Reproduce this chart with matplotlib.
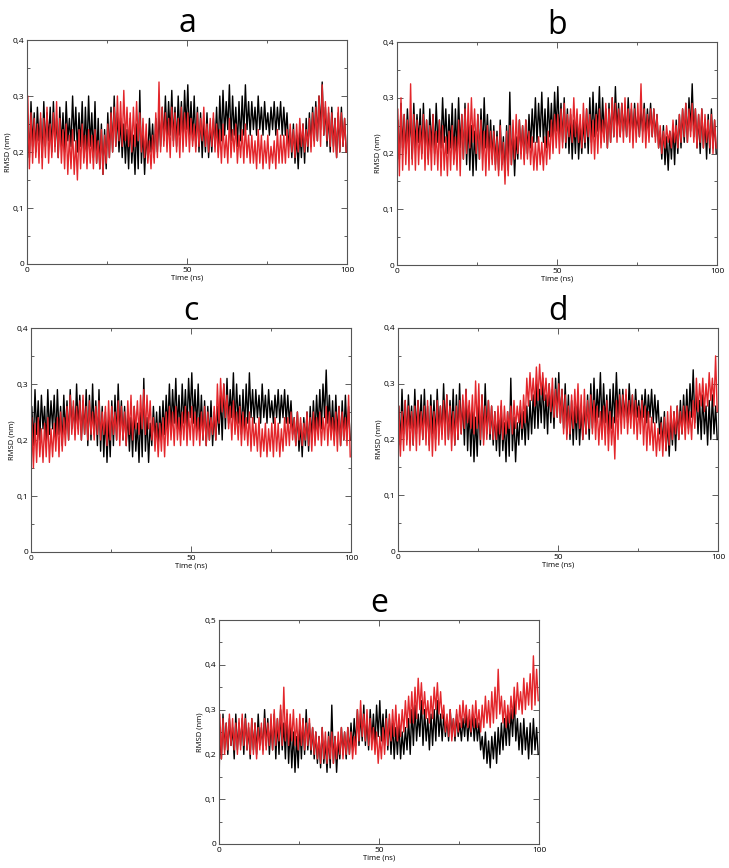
import numpy as np
import matplotlib
matplotlib.use("Agg")
import matplotlib.pyplot as plt
from matplotlib.ticker import FixedLocator, FuncFormatter

plt.rcParams['font.family'] = ['Open Sans', 'DejaVu Sans']

# ---- data: per-ns upper / lower excursions of each RMSD trace (nm) ----
panel_labels = ["a", "b", "c", "d", "e"]
start_value = 0.11

black_hi = [.26,.29,.27,.28,.26,.29,.27,.28,.29,.26,
            .28,.27,.29,.26,.30,.28,.27,.29,.28,.30,
            .27,.29,.26,.25,.24,.27,.28,.30,.27,.26,
            .25,.24,.26,.23,.25,.31,.24,.23,.26,.25,
            .26,.27,.28,.30,.29,.31,.28,.30,.29,.31,
            .32,.29,.30,.28,.27,.26,.27,.25,.26,.28,
            .30,.31,.29,.32,.30,.28,.29,.30,.32,.29,
            .29,.28,.30,.28,.29,.27,.28,.29,.28,.29,
            .28,.27,.24,.25,.23,.24,.25,.26,.27,.28,
            .29,.30,.325,.28,.27,.28,.26,.27,.28,.26]
black_lo = [.19,.21,.20,.22,.19,.21,.22,.20,.21,.19,
            .21,.20,.22,.21,.22,.20,.21,.19,.20,.21,
            .19,.18,.17,.16,.17,.19,.20,.21,.20,.19,
            .18,.17,.18,.16,.17,.18,.16,.19,.20,.19,
            .20,.21,.22,.22,.23,.22,.21,.23,.22,.24,
            .23,.22,.21,.20,.19,.20,.19,.20,.21,.20,
            .22,.23,.24,.22,.23,.21,.22,.23,.24,.23,
            .24,.23,.24,.23,.24,.23,.24,.23,.24,.23,
            .23,.21,.19,.18,.17,.19,.18,.20,.21,.22,
            .22,.24,.23,.21,.20,.21,.19,.20,.21,.20]

red_a_hi = [.30,.27,.26,.25,.27,.26,.28,.25,.27,.29,
            .26,.24,.25,.23,.24,.22,.24,.25,.23,.24,
            .23,.24,.22,.24,.23,.25,.27,.28,.30,.29,
            .31,.28,.27,.28,.29,.27,.26,.25,.22,.23,
            .27,.325,.28,.27,.26,.28,.27,.26,.28,.27,
            .27,.26,.25,.27,.26,.28,.25,.26,.27,.25,
            .24,.25,.23,.26,.24,.25,.23,.24,.25,.23,
            .23,.22,.24,.23,.22,.23,.21,.22,.24,.23,
            .23,.24,.25,.24,.25,.26,.25,.24,.26,.27,
            .28,.30,.32,.29,.28,.27,.26,.28,.27,.26]
red_a_lo = [.17,.18,.19,.18,.17,.19,.18,.19,.20,.19,
            .18,.17,.16,.17,.16,.15,.17,.18,.17,.18,
            .17,.18,.17,.16,.18,.19,.20,.21,.22,.21,
            .22,.21,.20,.21,.22,.20,.19,.18,.17,.18,
            .19,.20,.21,.20,.19,.21,.20,.19,.20,.21,
            .20,.21,.20,.21,.22,.21,.20,.21,.20,.19,
            .18,.19,.18,.19,.20,.18,.19,.18,.19,.18,
            .18,.17,.18,.17,.18,.17,.18,.17,.18,.18,
            .18,.19,.20,.19,.20,.21,.20,.21,.20,.21,
            .22,.21,.23,.22,.21,.20,.19,.20,.21,.20]

red_b_hi = [.28,.30,.27,.26,.325,.27,.26,.25,.27,.26,
            .25,.27,.24,.26,.25,.23,.24,.25,.23,.26,
            .27,.28,.29,.30,.28,.27,.26,.24,.25,.24,
            .24,.23,.25,.22,.24,.25,.26,.27,.26,.25,
            .26,.24,.23,.22,.23,.22,.23,.24,.26,.27,
            .27,.28,.29,.27,.28,.30,.28,.27,.29,.28,
            .27,.26,.27,.28,.26,.29,.28,.30,.29,.28,
            .29,.30,.28,.29,.28,.29,.325,.28,.27,.28,
            .28,.27,.25,.24,.25,.24,.26,.25,.27,.28,
            .29,.28,.29,.28,.27,.28,.27,.26,.27,.26]
red_b_lo = [.16,.17,.18,.17,.18,.17,.18,.19,.17,.18,
            .17,.18,.17,.16,.17,.16,.17,.18,.17,.16,
            .19,.20,.21,.22,.20,.19,.17,.16,.17,.18,
            .17,.16,.17,.145,.16,.18,.19,.20,.19,.18,
            .19,.18,.17,.17,.18,.17,.18,.19,.20,.21,
            .20,.21,.22,.23,.22,.23,.22,.21,.22,.23,
            .20,.19,.20,.21,.22,.21,.22,.23,.22,.23,
            .22,.23,.22,.21,.22,.23,.22,.21,.22,.23,
            .22,.21,.20,.21,.22,.21,.22,.21,.22,.23,
            .22,.23,.22,.21,.22,.21,.22,.21,.20,.21]

red_c_hi = [.24,.23,.24,.22,.23,.24,.22,.23,.24,.25,
            .24,.26,.28,.27,.26,.27,.28,.26,.27,.25,
            .26,.27,.25,.26,.27,.26,.25,.27,.26,.25,
            .27,.28,.26,.27,.28,.29,.28,.27,.24,.23,
            .23,.24,.25,.26,.25,.26,.24,.25,.26,.25,
            .26,.25,.24,.25,.26,.25,.24,.26,.30,.31,
            .30,.28,.26,.27,.25,.26,.25,.24,.25,.24,
            .23,.24,.22,.23,.22,.23,.24,.23,.22,.24,
            .24,.25,.24,.25,.24,.23,.25,.24,.25,.24,
            .25,.24,.26,.25,.24,.25,.26,.25,.24,.28]
red_c_lo = [.15,.16,.17,.16,.17,.16,.17,.18,.17,.18,
            .19,.20,.21,.20,.21,.20,.21,.20,.21,.20,
            .21,.20,.21,.19,.20,.21,.20,.19,.20,.19,
            .21,.20,.22,.21,.22,.21,.22,.20,.18,.17,
            .18,.17,.19,.20,.19,.20,.19,.20,.19,.20,
            .19,.20,.19,.20,.19,.20,.21,.20,.23,.25,
            .24,.22,.20,.21,.20,.19,.20,.19,.18,.19,
            .18,.17,.18,.17,.18,.17,.18,.17,.18,.19,
            .19,.20,.19,.20,.19,.20,.19,.18,.19,.20,
            .19,.20,.19,.20,.19,.18,.19,.20,.19,.17]

red_d_hi = [.26,.25,.27,.26,.25,.26,.27,.25,.26,.27,
            .26,.25,.27,.26,.27,.28,.26,.25,.26,.27,
            .28,.29,.27,.28,.305,.30,.28,.26,.27,.26,
            .25,.26,.27,.26,.25,.26,.27,.26,.27,.28,
            .31,.32,.31,.33,.335,.32,.31,.30,.31,.29,
            .30,.29,.28,.26,.28,.29,.30,.28,.29,.27,
            .28,.27,.26,.25,.26,.27,.25,.24,.27,.28,
            .28,.29,.27,.28,.27,.26,.27,.26,.25,.24,
            .23,.22,.23,.24,.25,.26,.25,.26,.25,.26,
            .26,.25,.27,.31,.30,.31,.30,.32,.31,.35]
red_d_lo = [.17,.18,.19,.18,.19,.18,.19,.20,.19,.18,
            .17,.18,.19,.20,.19,.20,.18,.19,.20,.21,
            .22,.23,.22,.21,.22,.20,.19,.20,.21,.20,
            .20,.21,.20,.21,.22,.21,.22,.23,.22,.23,
            .26,.27,.26,.27,.28,.27,.26,.25,.24,.24,
            .23,.21,.20,.21,.22,.23,.22,.20,.21,.22,
            .21,.20,.19,.20,.19,.18,.19,.165,.20,.21,
            .22,.21,.22,.21,.20,.21,.19,.18,.19,.18,
            .17,.18,.17,.18,.19,.20,.21,.20,.21,.20,
            .21,.20,.22,.25,.26,.25,.26,.27,.26,.25]

red_e_hi = [.29,.28,.27,.29,.28,.27,.28,.29,.28,.27,
            .28,.27,.26,.27,.28,.27,.29,.30,.28,.31,
            .35,.30,.29,.30,.28,.29,.28,.27,.28,.26,
            .25,.24,.26,.25,.24,.25,.24,.25,.26,.25,
            .26,.25,.24,.30,.32,.29,.30,.28,.26,.25,
            .24,.26,.28,.29,.30,.31,.29,.30,.32,.33,
            .34,.35,.37,.36,.34,.32,.33,.35,.36,.34,
            .31,.29,.30,.28,.30,.31,.32,.31,.30,.31,
            .32,.30,.31,.33,.32,.34,.35,.39,.33,.32,
            .31,.33,.35,.36,.34,.37,.36,.38,.42,.39]
red_e_lo = [.19,.20,.21,.22,.21,.20,.21,.22,.21,.20,
            .20,.19,.21,.20,.21,.22,.21,.22,.23,.22,
            .23,.22,.23,.22,.21,.22,.21,.22,.21,.20,
            .19,.18,.19,.18,.19,.18,.19,.20,.19,.20,
            .20,.19,.20,.23,.24,.23,.22,.21,.20,.18,
            .19,.20,.22,.23,.24,.23,.24,.25,.26,.27,
            .27,.28,.30,.29,.28,.27,.28,.30,.29,.28,
            .25,.24,.23,.24,.25,.26,.27,.26,.25,.26,
            .26,.25,.26,.27,.26,.27,.28,.29,.27,.26,
            .27,.28,.29,.30,.29,.30,.31,.30,.31,.32]

red_hi = [red_a_hi, red_b_hi, red_c_hi, red_d_hi, red_e_hi]
red_lo = [red_a_lo, red_b_lo, red_c_lo, red_d_lo, red_e_lo]
y_max = [0.4, 0.4, 0.4, 0.4, 0.5]
x_major = [0, 50, 100]
x_minor = [25, 75]


def trace(hi, lo):
    n = len(hi)
    t = np.column_stack([np.arange(n) + 0.25, np.arange(n) + 0.75]).ravel()
    v = np.column_stack([hi, lo]).ravel()
    return np.concatenate([[0.0], t]), np.concatenate([[start_value], v])


# ---- layout (pixel boxes of the reference, 729x868) ----
W, H = 729, 868
boxes = [(27, 40, 347, 264), (397, 42, 717, 265), (31, 328, 351, 552),
         (398, 328, 718, 551), (219, 620, 539, 844)]

fig = plt.figure(figsize=(W / 100, H / 100), dpi=100)
fmt = FuncFormatter(lambda v, p: "0" if abs(v) < 1e-9 else f"{v:.1f}".replace(".", ","))

tb, vb = trace(black_hi, black_lo)
for i, (x0, y0, x1, y1) in enumerate(boxes):
    ax = fig.add_axes([x0 / W, (H - y1) / H, (x1 - x0) / W, (y1 - y0) / H])
    tr, vr = trace(red_hi[i], red_lo[i])
    ax.plot(tb, vb, color="black", lw=1.0)
    ax.plot(tr, vr, color="#e3262b", lw=1.0)
    ax.set_xlim(0, 100)
    ax.set_ylim(0, y_max[i])
    ax.xaxis.set_major_locator(FixedLocator(x_major))
    ax.xaxis.set_minor_locator(FixedLocator(x_minor))
    ax.yaxis.set_major_locator(FixedLocator(np.arange(0, y_max[i] + 0.001, 0.1)))
    ax.yaxis.set_minor_locator(FixedLocator(np.arange(0.05, y_max[i], 0.1)))
    ax.yaxis.set_major_formatter(fmt)
    ax.tick_params(which="both", direction="in", top=True, right=True,
                   labelsize=6, pad=2, color="#444444")
    ax.tick_params(which="major", length=4, width=0.6)
    ax.tick_params(which="minor", length=2.5, width=0.6)
    for s in ax.spines.values():
        s.set_color("#555555")
        s.set_linewidth(0.8)
    ax.set_xlabel("Time (ns)", fontsize=5.5, labelpad=0.5)
    ax.set_ylabel("RMSD (nm)", fontsize=5.5, labelpad=1)
    ax.set_title(panel_labels[i], fontsize=23, pad=5)

fig.savefig("out.png", dpi=100)
